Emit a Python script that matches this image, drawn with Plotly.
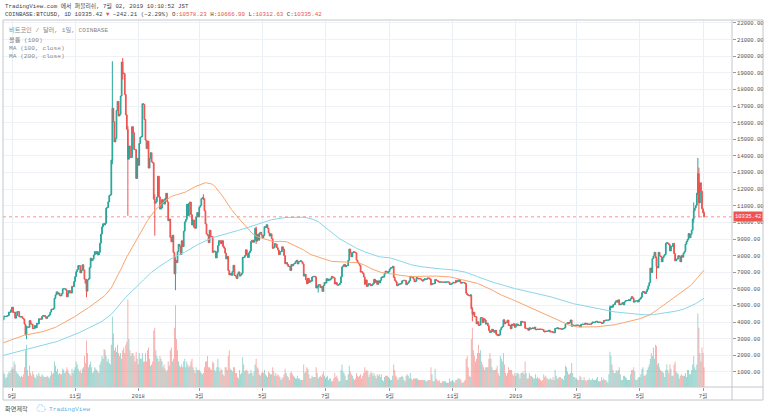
import pandas as pd
import plotly.graph_objects as go

# COINBASE BTCUSD daily closes, starting 2017-02-01 (early months only feed the MAs)
closes_2017 = [
    970, 1010, 1020, 1040, 1030, 1030, 1050, 1060, 990, 1000, 1010, 1000, 995, 1010, 1010, 1040, 1060, 1060, 1050, 1090, 1120, 1130, 1180, 1170, 1160, 1180, 1190, 1190,
    1230, 1260, 1280, 1270, 1270, 1280, 1240, 1150, 1190, 1110, 1180, 1230, 1240, 1250, 1260, 1170, 1070, 960, 1030, 1050, 1110, 1040, 1040, 940, 960, 970, 1040, 1050, 1030, 1030, 1080,
    1090, 1100, 1140, 1140, 1130, 1190, 1190, 1180, 1210, 1210, 1230, 1210, 1180, 1180, 1190, 1190, 1200, 1210, 1220, 1250, 1250, 1240, 1250, 1250, 1270, 1290, 1320, 1320, 1320, 1350,
    1420, 1460, 1510, 1530, 1550, 1560, 1570, 1680, 1720, 1800, 1820, 1690, 1750, 1780, 1710, 1730, 1800, 1880, 1970, 2040, 2050, 2150, 2280, 2420, 2350, 2200, 2050, 2170, 2280, 2190, 2300,
    2420, 2480, 2520, 2520, 2690, 2870, 2700, 2790, 2810, 2900, 2960, 2650, 2720, 2450, 2440, 2510, 2630, 2560, 2620, 2720, 2640, 2670, 2700, 2590, 2560, 2440, 2550, 2560, 2540, 2480,
    2440, 2520, 2570, 2600, 2610, 2600, 2500, 2550, 2500, 2340, 2330, 2400, 2350, 2220, 1960, 1930, 2230, 2320, 2280, 2880, 2680, 2830, 2760, 2760, 2570, 2540, 2680, 2800, 2730, 2750, 2870,
    2720, 2700, 2800, 2870, 3250, 3220, 3390, 3420, 3350, 3420, 3650, 3860, 4050, 4320, 4160, 4380, 4280, 4090, 4170, 4050, 4020, 4100, 4150, 4330, 4360, 4340, 4360, 4390, 4600, 4590, 4740,
    4900, 4580, 4600, 4240, 4400, 4630, 4630, 4310, 4320, 4330, 4230, 4190, 3880, 3240, 3700, 3700, 3690, 4090, 3900, 3880, 3610, 3610, 3790, 3660, 3930, 3890, 4200, 4190, 4170, 4340,
    4400, 4400, 4320, 4220, 4320, 4370, 4440, 4610, 4780, 4760, 4820, 5430, 5640, 5820, 5690, 5750, 5600, 5580, 5710, 6000, 6010, 6010, 5930, 5520, 5740, 5900, 5780, 5750, 6150, 6130, 6450,
    6740, 7030, 7160, 7400, 7390, 6960, 7120, 7450, 7140, 6580, 6340, 5860, 6540, 6600, 7280, 7850, 7700, 7790, 8040, 8240, 8100, 8240, 8040, 8200, 8750, 9300, 9730, 9920, 9850, 9950,
    10860, 10900, 11240, 11620, 11660, 13750, 16870, 16050, 14840, 15060, 16730, 17280, 16400, 16500, 17600, 19650, 19000, 18950, 17700, 16470, 15600, 13800, 14600, 13900, 13900, 15760, 15400, 14390, 14380, 12640, 13860,
]
closes_2018 = [
    13440, 14750, 15130, 15160, 17140, 17100, 16190, 14950, 14440, 14890, 13270, 13850, 14190, 13640, 13590, 11400, 11150, 11240, 11520, 12780, 11540, 10800, 10860, 11370, 11220, 11100, 11440, 11750, 11230, 10100, 10200,
    9100, 8830, 9230, 8190, 6900, 7700, 7580, 8240, 8680, 8560, 8070, 8890, 8540, 9470, 10030, 10170, 11090, 10400, 11150, 11220, 10460, 9840, 10150, 9700, 9650, 10320, 10590, 10330,
    10920, 11020, 11430, 11490, 11420, 10700, 9910, 9300, 9230, 8780, 9530, 9140, 9150, 8200, 8260, 8270, 7860, 8200, 8600, 8900, 8890, 8720, 8900, 8550, 8450, 8150, 7800, 7950, 7100, 6840, 6930,
    6820, 7050, 7420, 6800, 6780, 6620, 6900, 7020, 6770, 6830, 6940, 7900, 7890, 8000, 8350, 8060, 7890, 8170, 8280, 8860, 8920, 8800, 8940, 9650, 8870, 9280, 8930, 9350, 9400, 9240,
    9070, 9220, 9740, 9700, 9860, 9650, 9370, 9180, 9310, 9020, 8440, 8500, 8720, 8680, 8480, 8340, 8060, 8240, 8240, 8530, 8400, 8000, 7520, 7580, 7460, 7340, 7350, 7110, 7470, 7390, 7500,
    7530, 7640, 7720, 7500, 7630, 7650, 7690, 7620, 7500, 6770, 6880, 6550, 6310, 6640, 6390, 6490, 6460, 6710, 6740, 6760, 6720, 6050, 6150, 6250, 6250, 6080, 6130, 5850, 6200, 6390,
    6350, 6610, 6500, 6590, 6530, 6600, 6750, 6710, 6670, 6300, 6390, 6250, 6220, 6270, 6350, 6730, 7320, 7380, 7470, 7330, 7400, 7400, 7720, 8400, 8170, 7930, 8180, 8230, 8210, 8170, 7730,
    7600, 7530, 7410, 7010, 7030, 6940, 6720, 6280, 6540, 6150, 6240, 6320, 6250, 6190, 6270, 6310, 6580, 6390, 6490, 6270, 6480, 6360, 6520, 6700, 6730, 6710, 6910, 7070, 7030, 6980, 7030,
    7190, 7270, 7260, 7360, 6700, 6510, 6410, 6190, 6230, 6300, 6280, 6330, 6480, 6490, 6520, 6500, 6250, 6330, 6390, 6490, 6760, 6720, 6700, 6590, 6430, 6460, 6680, 6630, 6600, 6620,
    6590, 6510, 6470, 6570, 6610, 6560, 6600, 6660, 6640, 6580, 6250, 6310, 6300, 6320, 6570, 6510, 6490, 6430, 6400, 6420, 6410, 6400, 6400, 6420, 6400, 6410, 6420, 6410, 6270, 6280, 6310,
    6360, 6390, 6360, 6500, 6420, 6480, 6550, 6420, 6340, 6380, 6390, 6370, 6320, 5740, 5650, 5600, 5580, 5640, 4800, 4470, 4590, 4330, 4330, 3900, 4020, 3800, 3820, 4260, 4270, 3970,
    4200, 4130, 3880, 3940, 3780, 3500, 3380, 3420, 3570, 3460, 3390, 3510, 3270, 3210, 3200, 3230, 3540, 3680, 3730, 4140, 3900, 4000, 3990, 4120, 3800, 3820, 3600, 3870, 3810, 3900, 3690,
]
closes_2019 = [
    3830, 3890, 3790, 3820, 3790, 4050, 4000, 4000, 4010, 3630, 3630, 3610, 3510, 3660, 3580, 3620, 3650, 3610, 3700, 3540, 3550, 3580, 3560, 3580, 3570, 3570, 3550, 3440, 3410, 3460, 3440,
    3470, 3510, 3410, 3410, 3430, 3370, 3360, 3620, 3620, 3660, 3590, 3620, 3600, 3570, 3590, 3610, 3660, 3900, 3920, 3970, 3920, 3980, 4130, 3750, 3830, 3800, 3810, 3800,
    3820, 3820, 3790, 3710, 3860, 3870, 3880, 3860, 3940, 3920, 3860, 3880, 3870, 3870, 3910, 4010, 3980, 3990, 4020, 4050, 3980, 3990, 4000, 3990, 3920, 3940, 4090, 4080, 4120, 4120, 4110,
    4140, 4880, 4960, 4900, 5040, 5060, 5200, 5290, 5200, 5340, 5040, 5080, 5090, 5170, 5040, 5220, 5280, 5300, 5300, 5340, 5300, 5420, 5530, 5440, 5200, 5260, 5270, 5290, 5210, 5350,
    5400, 5500, 5770, 5850, 5770, 5720, 5840, 5980, 6180, 6370, 7250, 6980, 7820, 7980, 8200, 7870, 7350, 7260, 8200, 7990, 7950, 7630, 7880, 7990, 8070, 8740, 8780, 8720, 8660, 8280, 8560,
    8560, 8740, 8120, 7680, 7790, 7800, 8000, 7930, 7630, 8010, 7910, 8150, 8240, 8690, 8850, 8980, 9330, 9080, 9280, 9530, 10210, 10700, 10860, 11020, 11760, 12930, 11170, 12380, 11880, 10820,
    10577.63, 10335.42,
]

# daily volume, thousand BTC, starting 2017-08-20
volume_2017 = [
    9, 8, 12, 11, 10, 9, 6, 7, 9, 11, 10, 12,
    14, 13, 18, 16, 11, 10, 9, 8, 7, 8, 7, 9, 14, 26, 30, 12, 8, 15, 10, 8, 11, 9, 7, 6, 9, 8, 10, 8, 7, 9,
    8, 7, 7, 7, 8, 7, 6, 8, 11, 9, 10, 18, 15, 11, 13, 9, 10, 9, 9, 13, 12, 10, 11, 14, 12, 10, 9, 8, 13, 10, 12,
    14, 18, 16, 13, 11, 12, 10, 13, 14, 22, 17, 33, 24, 14, 16, 18, 14, 10, 11, 14, 13, 12, 11, 10, 16, 18, 22, 20, 27, 26,
    22, 18, 20, 17, 16, 30, 50, 38, 26, 28, 25, 30, 24, 22, 24, 20, 26, 28, 24, 30, 32, 62, 34, 26, 22, 24, 24, 22, 18, 25, 20,
]
volume_2018 = [
    16, 24, 20, 20, 24, 18, 18, 24, 18, 26, 28, 20, 15, 16, 18, 40, 42, 26, 22, 20, 18, 22, 20, 18, 14, 16, 13, 11, 12, 18, 15,
    26, 28, 18, 20, 42, 58, 34, 26, 18, 15, 14, 16, 14, 18, 20, 14, 18, 16, 14, 15, 18, 20, 14, 12, 10, 14, 12, 12,
    12, 11, 10, 9, 10, 14, 18, 18, 22, 14, 14, 13, 12, 18, 17, 12, 11, 14, 20, 14, 11, 13, 12, 9, 8, 14, 14, 12, 22, 26, 13,
    12, 11, 14, 14, 10, 10, 7, 6, 12, 9, 10, 21, 16, 11, 12, 12, 11, 9, 10, 12, 10, 8, 11, 16, 20, 14, 13, 9, 8, 10,
    11, 10, 12, 9, 8, 7, 11, 10, 9, 9, 14, 11, 8, 10, 8, 9, 8, 7, 5, 6, 7, 9, 13, 10, 8, 7, 5, 10, 11, 9, 8,
    7, 6, 6, 8, 6, 6, 5, 5, 5, 16, 10, 11, 14, 13, 9, 6, 6, 8, 7, 7, 7, 14, 10, 6, 7, 8, 7, 9, 11, 8,
    6, 7, 8, 5, 6, 6, 4, 4, 6, 10, 7, 8, 6, 4, 4, 12, 16, 11, 10, 8, 5, 5, 9, 15, 11, 9, 8, 6, 5, 6, 10,
    8, 7, 8, 9, 6, 8, 10, 14, 11, 12, 11, 7, 9, 11, 10, 8, 10, 8, 6, 9, 8, 9, 7, 9, 5, 4, 7, 8, 8, 8, 7,
    6, 5, 5, 8, 16, 12, 8, 7, 5, 6, 7, 7, 8, 7, 5, 4, 8, 9, 8, 6, 10, 6, 5, 6, 6, 6, 6, 6, 5, 5,
    5, 5, 5, 5, 5, 4, 4, 5, 5, 5, 14, 9, 4, 4, 13, 6, 5, 4, 5, 3, 3, 4, 4, 4, 4, 3, 3, 3, 6, 4, 4,
    5, 4, 3, 5, 5, 6, 6, 6, 5, 3, 3, 4, 5, 20, 22, 14, 8, 7, 34, 42, 26, 22, 18, 20, 24, 30, 24, 26, 18, 16,
    14, 12, 14, 14, 14, 20, 24, 20, 14, 12, 12, 12, 13, 15, 10, 8, 22, 20, 18, 24, 16, 10, 8, 10, 14, 12, 12, 12, 9, 8, 10,
]
volume_2019 = [
    8, 10, 10, 9, 6, 10, 10, 11, 9, 18, 10, 6, 6, 10, 8, 8, 7, 6, 6, 9, 6, 7, 6, 6, 5, 4, 5, 9, 7, 8, 6,
    6, 5, 6, 6, 5, 7, 5, 12, 8, 6, 6, 7, 7, 6, 6, 5, 8, 15, 14, 11, 9, 9, 10, 17, 10, 7, 7, 6,
    6, 5, 5, 8, 7, 5, 5, 7, 5, 4, 5, 5, 6, 5, 5, 6, 5, 5, 5, 6, 7, 4, 4, 4, 7, 5, 6, 5, 5, 4, 3,
    9, 25, 22, 16, 12, 10, 10, 12, 11, 12, 14, 9, 5, 5, 8, 8, 7, 6, 5, 5, 5, 9, 12, 12, 14, 11, 5, 5, 6, 7,
    7, 9, 13, 14, 8, 8, 9, 12, 14, 16, 20, 24, 22, 28, 20, 30, 29, 16, 17, 14, 12, 11, 11, 10, 7, 12, 16, 12, 10, 16, 13,
    8, 8, 16, 18, 11, 10, 9, 6, 8, 9, 8, 8, 8, 10, 7, 12, 12, 9, 9, 12, 16, 22, 14, 12, 16, 52, 42, 24, 18, 28,
    24, 14,
]

# the long wicks that stand out: date, high, low
wick_dates = ["2017-09-15", "2017-11-12", "2017-12-07", "2017-12-17", "2017-12-22", "2018-01-17",
              "2018-02-06", "2018-03-05", "2018-04-25", "2018-06-24", "2018-11-20", "2018-12-15",
              "2019-04-02", "2019-05-17", "2019-06-22", "2019-06-26", "2019-06-27"]
wick_highs = [3790, 6600, 19697, 19891, 15800, 11700, 7900, 11700, 9750, 6250, 4900, 3300,
              5000, 7950, 11200, 13880, 13300]
wick_lows = [2972, 5500, 13500, 18600, 10400, 9200, 5920, 11350, 8700, 5780, 4050, 3150,
             4140, 6600, 10000, 11650, 10300]
last_ohlc = [10578.23, 10666.99, 10312.63, 10335.42]

x_ticks = ["2017-09-01", "2017-11-01", "2018-01-01", "2018-03-01", "2018-05-01", "2018-07-01",
           "2018-09-01", "2018-11-01", "2019-01-01", "2019-03-01", "2019-05-01", "2019-07-01"]
x_labels = ["9월", "11월", "2018", "3월", "5월", "7월", "9월", "11월", "2019", "3월", "5월", "7월"]

UP = "#26a69a"
DOWN = "#ef5350"
MONO = "Liberation Mono, Noto Sans CJK KR, monospace"

closes = closes_2017 + closes_2018 + closes_2019
dates = pd.date_range("2017-02-01", periods=len(closes), freq="D")
assert dates[-1] == pd.Timestamp("2019-07-02")
df = pd.DataFrame({"close": closes}, index=dates)
df["open"] = df["close"].shift(1).fillna(df["close"])
df.loc["2019-07-02", "open"] = last_ohlc[0]
df["high"] = df[["open", "close"]].max(axis=1)
df["low"] = df[["open", "close"]].min(axis=1)
for d, h, l in zip(wick_dates, wick_highs, wick_lows):
    df.loc[d, "high"] = max(h, df.loc[d, "high"])
    df.loc[d, "low"] = min(l, df.loc[d, "low"])
df.loc["2019-07-02", "high"] = last_ohlc[1]
df.loc["2019-07-02", "low"] = last_ohlc[2]
df["ma100"] = df["close"].rolling(100).mean()
df["ma200"] = df["close"].rolling(200).mean()

volume = volume_2017 + volume_2018 + volume_2019
vdates = pd.date_range("2017-08-20", periods=len(volume), freq="D")
assert vdates[-1] == dates[-1]
vup = (df.loc[vdates, "close"] >= df.loc[vdates, "open"]).values
vcolors = ["rgba(38,166,154,0.5)" if u else "rgba(239,83,80,0.5)" for u in vup]

fig = go.Figure()
# volume on the hidden primary axis so it stays behind the candles
fig.add_trace(go.Bar(x=vdates, y=volume, marker=dict(color=vcolors, line=dict(width=0)),
                     yaxis="y", hoverinfo="skip"))
fig.add_trace(go.Scatter(x=df.index, y=df["ma200"], mode="lines", yaxis="y2",
                         line=dict(color="#8ad6ea", width=1)))
fig.add_trace(go.Scatter(x=df.index, y=df["ma100"], mode="lines", yaxis="y2",
                         line=dict(color="#f9a66e", width=1)))
fig.add_trace(go.Candlestick(
    x=df.index, open=df["open"], high=df["high"], low=df["low"], close=df["close"], yaxis="y2",
    increasing=dict(line=dict(color=UP, width=1), fillcolor=UP),
    decreasing=dict(line=dict(color=DOWN, width=1), fillcolor=DOWN),
    whiskerwidth=0))

W, H = 768, 418
L, R, T, B = 3, 36, 20, 31
pw, ph = W - L - R, H - T - B


def px(x):
    return (x - L) / pw


def py(y):
    return (H - B - y) / ph


fig.update_layout(
    width=W, height=H, showlegend=False,
    margin=dict(l=L, r=R, t=T, b=B),
    paper_bgcolor="white", plot_bgcolor="white",
    bargap=0.15, boxgap=0,
    xaxis=dict(range=["2017-08-23 07:00", "2019-07-29"], rangeslider=dict(visible=False),
               tickvals=x_ticks, ticktext=x_labels, showgrid=True, gridcolor="#e9eff5",
               ticks="outside", ticklen=3, tickcolor="#999", showline=False, zeroline=False,
               automargin=False, tickfont=dict(family=MONO, size=5.5, color="#555")),
    yaxis=dict(range=[0, 260], visible=False, showgrid=False),
    yaxis2=dict(overlaying="y", side="right", range=[96, 22178], tick0=0, dtick=1000,
                tickformat=".2f", showgrid=True, gridcolor="#eef2f6", zeroline=False,
                ticks="outside", ticklen=3, tickcolor="#999", automargin=False,
                tickfont=dict(family=MONO, size=5.5, color="#555")),
)

shapes = [
    dict(type="line", xref="paper", yref="y2", x0=0, x1=1, y0=last_ohlc[3], y1=last_ohlc[3],
         line=dict(color="rgba(239,83,80,0.6)", width=1, dash="dot")),
    dict(type="rect", xref="paper", yref="paper", x0=0, x1=px(763), y0=py(400), y1=1,
         line=dict(color="#c3c6cc", width=1)),
    dict(type="line", xref="paper", yref="paper", x0=1, x1=1, y0=py(400), y1=1,
         line=dict(color="#c3c6cc", width=1)),
    dict(type="line", xref="paper", yref="paper", x0=0, x1=px(763), y0=0, y1=0,
         line=dict(color="#c3c6cc", width=1)),
]
fig.update_layout(shapes=shapes)

red = "#e8504f"
header2 = ("COINBASE:BTCUSD, 1D 10335.42 <span style='color:%s'>▼</span> −242.21 (−2.29%%) "
           "O:<span style='color:%s'>10578.23</span> H:<span style='color:%s'>10666.99</span> "
           "L:<span style='color:%s'>10312.63</span> C:<span style='color:%s'>10335.42</span>"
           % (red, red, red, red, red))
notes = [
    ("TradingView.com 에서 퍼블리쉬, 7월 02, 2019 10:10:52 JST", 0, 6, "#444", 5.8),
    (header2, 0, 15, "#444", 5.8),
    ("비트코인 / 달러, 1일, COINBASE", 4, 30, "#888", 6.2),
    ("볼륨 (100)", 4, 40, "#888", 6.2),
    ("MA (100, close)", 4, 48, "#888", 6.2),
    ("MA (200, close)", 4, 56, "#888", 6.2),
    ("화면제작", 0, 409, "#555", 6.2),
    ("☁", 31, 409, "#5bb3e4", 10),
    ("TradingView", 44, 409, "#5bb3e4", 6.2),
]
for text, x, y, color, size in notes:
    fig.add_annotation(text=text, xref="paper", yref="paper", x=px(L + x), y=py(y),
                       xanchor="left", yanchor="middle", showarrow=False,
                       font=dict(family=MONO, size=size, color=color))

fig.add_annotation(text="10335.42", xref="paper", yref="y2", x=1, y=last_ohlc[3],
                   xanchor="left", yanchor="middle", showarrow=False, bgcolor=DOWN,
                   borderpad=1, xshift=1, font=dict(family=MONO, size=5.5, color="white"))

# the page body has a default 8px margin; drop it so the figure sits at the window corner
fig.write_html("out.html", config={"displayModeBar": False},
               post_script="document.body.style.margin='0';")
